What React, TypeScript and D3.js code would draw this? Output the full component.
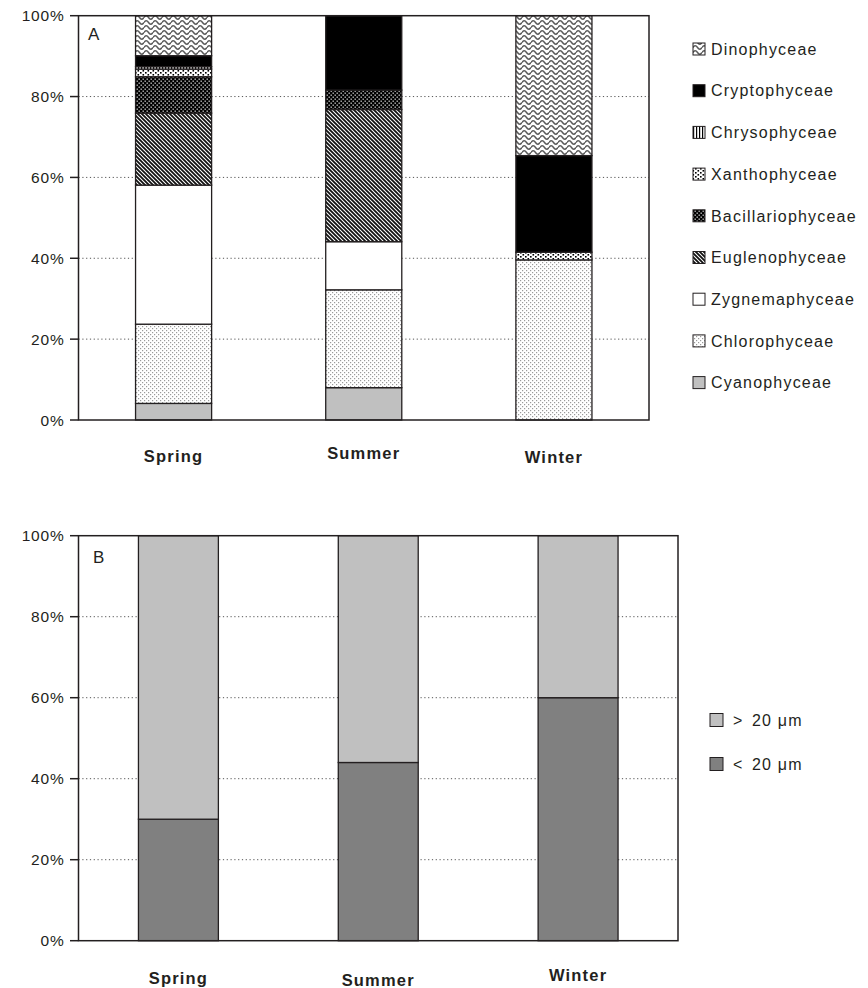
import React from "react";
import * as d3 from "d3";

// Seasons on the x axis of both panels
const seasons = ["Spring", "Summer", "Winter"];

// Panel A: relative abundance (%) of each algal class per season
const classNames = [
  "Cyanophyceae",
  "Chlorophyceae",
  "Zygnemaphyceae",
  "Euglenophyceae",
  "Bacillariophyceae",
  "Xanthophyceae",
  "Chrysophyceae",
  "Cryptophyceae",
  "Dinophyceae",
];
const cyanophyceae = [4.1, 8.0, 0];
const chlorophyceae = [19.6, 24.2, 39.6];
const zygnemaphyceae = [34.4, 11.9, 0];
const euglenophyceae = [17.8, 32.7, 0];
const bacillariophyceae = [9.0, 4.8, 0];
const xanthophyceae = [1.9, 0, 1.9];
const chrysophyceae = [0.6, 0, 0];
const cryptophyceae = [2.7, 18.4, 23.9];
const dinophyceae = [9.9, 0, 34.6];

// Panel B: size fractions (%)
const sizeNames = ["< 20 μm", "> 20 μm"];
const smallCells = [30, 44, 60];
const largeCells = [70, 56, 40];

const percentTicks = [0, 20, 40, 60, 80, 100];

const FONT = "'Liberation Sans', Arial, Helvetica, sans-serif";
const INK = "#231f20";

const classFills: Record<string, string> = {
  Cyanophyceae: "#c0c0c0",
  Chlorophyceae: "url(#pat-chloro)",
  Zygnemaphyceae: "#ffffff",
  Euglenophyceae: "url(#pat-eugl)",
  Bacillariophyceae: "url(#pat-bacil)",
  Xanthophyceae: "url(#pat-xantho)",
  Chrysophyceae: "url(#pat-chryso)",
  Cryptophyceae: "#000000",
  Dinophyceae: "url(#pat-dino)",
};
const sizeFills: Record<string, string> = {
  "< 20 μm": "#808080",
  "> 20 μm": "#c0c0c0",
};

function Patterns() {
  return (
    <defs>
      <pattern id="pat-dino" width={9} height={5} patternUnits="userSpaceOnUse">
        <rect width={9} height={5} fill="#fff" />
        <path d="M0,2.5 C1.5,0.3 3,0.3 4.5,2.5 S7.5,4.7 9,2.5" fill="none" stroke="#5a5a5a" strokeWidth={1.5} />
      </pattern>
      <pattern id="pat-chryso" width={3} height={3} patternUnits="userSpaceOnUse">
        <rect width={3} height={3} fill="#fff" />
        <rect width={1.2} height={3} fill="#000" />
      </pattern>
      <pattern id="pat-xantho" width={5} height={4} patternUnits="userSpaceOnUse">
        <rect width={5} height={4} fill="#fff" />
        <rect x={0} y={0} width={1.6} height={1.6} fill="#000" />
        <rect x={2.5} y={2} width={1.6} height={1.6} fill="#000" />
      </pattern>
      <pattern id="pat-bacil" width={4} height={4} patternUnits="userSpaceOnUse">
        <rect width={4} height={4} fill="#000" />
        <rect x={0.5} y={0.5} width={1.4} height={1.4} fill="#bbb" />
        <rect x={2.5} y={2.5} width={1.4} height={1.4} fill="#bbb" />
      </pattern>
      <pattern id="pat-eugl" width={4} height={4} patternUnits="userSpaceOnUse">
        <rect width={4} height={4} fill="#fff" />
        <path d="M-1,-1 L5,5 M-1,3 L1,5 M3,-1 L5,1" stroke="#111" strokeWidth={1.8} />
      </pattern>
      <pattern id="pat-chloro" width={4} height={4} patternUnits="userSpaceOnUse">
        <rect width={4} height={4} fill="#fff" />
        <rect x={0} y={0} width={1.2} height={1.2} fill="#9a9a9a" />
        <rect x={2} y={2} width={1.2} height={1.2} fill="#9a9a9a" />
      </pattern>
    </defs>
  );
}

type PanelProps = {
  left: number;
  right: number;
  top: number;
  bottom: number;
  letter: string;
  letterPos: [number, number];
  keys: string[];
  values: number[][];
  fills: Record<string, string>;
  labelOffsets: number[];
};

function Panel({ left, right, top, bottom, letter, letterPos, keys, values, fills, labelOffsets }: PanelProps) {
  const x = d3.scaleBand<string>().domain(seasons).range([left, right]).paddingInner(0.6).paddingOuter(0.3);
  const y = d3.scaleLinear().domain([0, 100]).range([bottom, top]);

  const table = seasons.map((s, i) => {
    const row: Record<string, number | string> = { season: s };
    keys.forEach((k, j) => (row[k] = values[j][i]));
    return row;
  });
  const series = d3.stack<Record<string, number | string>>().keys(keys)(table as any);

  return (
    <g>
      {/* dotted gridlines */}
      {percentTicks
        .filter((t) => t > 0 && t < 100)
        .map((t) => (
          <line key={t} x1={left} x2={right} y1={y(t)} y2={y(t)} stroke="#555" strokeWidth={1} strokeDasharray="1.2 2.6" />
        ))}
      {/* stacked bars */}
      {series.map((s) =>
        s.map((d, i) => {
          const h = y(d[0]) - y(d[1]);
          if (h <= 0.01) return null;
          return (
            <rect
              key={s.key + i}
              x={x(seasons[i])}
              y={y(d[1])}
              width={x.bandwidth()}
              height={h}
              fill={fills[s.key]}
              stroke={INK}
              strokeWidth={1.3}
            />
          );
        })
      )}
      {/* frame */}
      <rect x={left} y={top} width={right - left} height={bottom - top} fill="none" stroke={INK} strokeWidth={1.5} />
      {/* y ticks */}
      {percentTicks.map((t) => (
        <g key={t}>
          <line x1={left - 8.5} x2={left} y1={y(t)} y2={y(t)} stroke={INK} strokeWidth={1.5} />
          <text
            x={left - 14}
            y={y(t)}
            dy="0.36em"
            textAnchor="end"
            fontFamily={FONT}
            fontSize={15.5}
            letterSpacing={0.8}
            fill={INK}
          >
            {t}%
          </text>
        </g>
      ))}
      {/* season labels */}
      {seasons.map((s, i) => (
        <text
          key={s}
          x={(x(s) as number) + x.bandwidth() / 2}
          y={bottom + 42 + labelOffsets[i]}
          textAnchor="middle"
          fontFamily={FONT}
          fontWeight="bold"
          fontSize={16.5}
          letterSpacing={1.2}
          fill={INK}
        >
          {s}
        </text>
      ))}
      <text x={letterPos[0]} y={letterPos[1]} fontFamily={FONT} fontSize={17} fill={INK}>
        {letter}
      </text>
    </g>
  );
}

export default function App() {
  const classValues = [
    cyanophyceae,
    chlorophyceae,
    zygnemaphyceae,
    euglenophyceae,
    bacillariophyceae,
    xanthophyceae,
    chrysophyceae,
    cryptophyceae,
    dinophyceae,
  ];
  const legendA = [...classNames].reverse();
  const legendB = [...sizeNames].reverse();

  return (
    <svg width={868} height={988} style={{ position: "absolute", left: 0, top: 0, background: "#fff" }}>
      <Patterns />
      <rect width={868} height={988} fill="#fff" />
      <Panel
        left={78.5}
        right={649}
        top={15.7}
        bottom={420}
        letter="A"
        letterPos={[88, 40]}
        keys={classNames}
        values={classValues}
        fills={classFills}
        labelOffsets={[0, -3, 1]}
      />
      <Panel
        left={78.5}
        right={678}
        top={535.7}
        bottom={940.7}
        letter="B"
        letterPos={[93, 563]}
        keys={sizeNames}
        values={[smallCells, largeCells]}
        fills={sizeFills}
        labelOffsets={[1, 3, -2]}
      />
      {/* legend of panel A */}
      {legendA.map((k, i) => {
        const cy = 49 + i * 41.7;
        return (
          <g key={k}>
            <rect x={693} y={cy - 6} width={12} height={12} fill={classFills[k]} stroke={INK} strokeWidth={1} />
            <text x={711} y={cy} dy="0.36em" fontFamily={FONT} fontSize={16} letterSpacing={1.2} fill={INK}>
              {k}
            </text>
          </g>
        );
      })}
      {/* legend of panel B */}
      {legendB.map((k, i) => {
        const cy = 720 + i * 44;
        const [sign, rest] = [k.slice(0, 1), k.slice(2)];
        return (
          <g key={k}>
            <rect x={710} y={cy - 6.5} width={13} height={13} fill={sizeFills[k]} stroke={INK} strokeWidth={1} />
            <text x={733} y={cy} dy="0.36em" fontFamily={FONT} fontSize={16} letterSpacing={1} fill={INK}>
              {sign}
            </text>
            <text x={752} y={cy} dy="0.36em" fontFamily={FONT} fontSize={16} letterSpacing={1.2} fill={INK}>
              {rest}
            </text>
          </g>
        );
      })}
    </svg>
  );
}
